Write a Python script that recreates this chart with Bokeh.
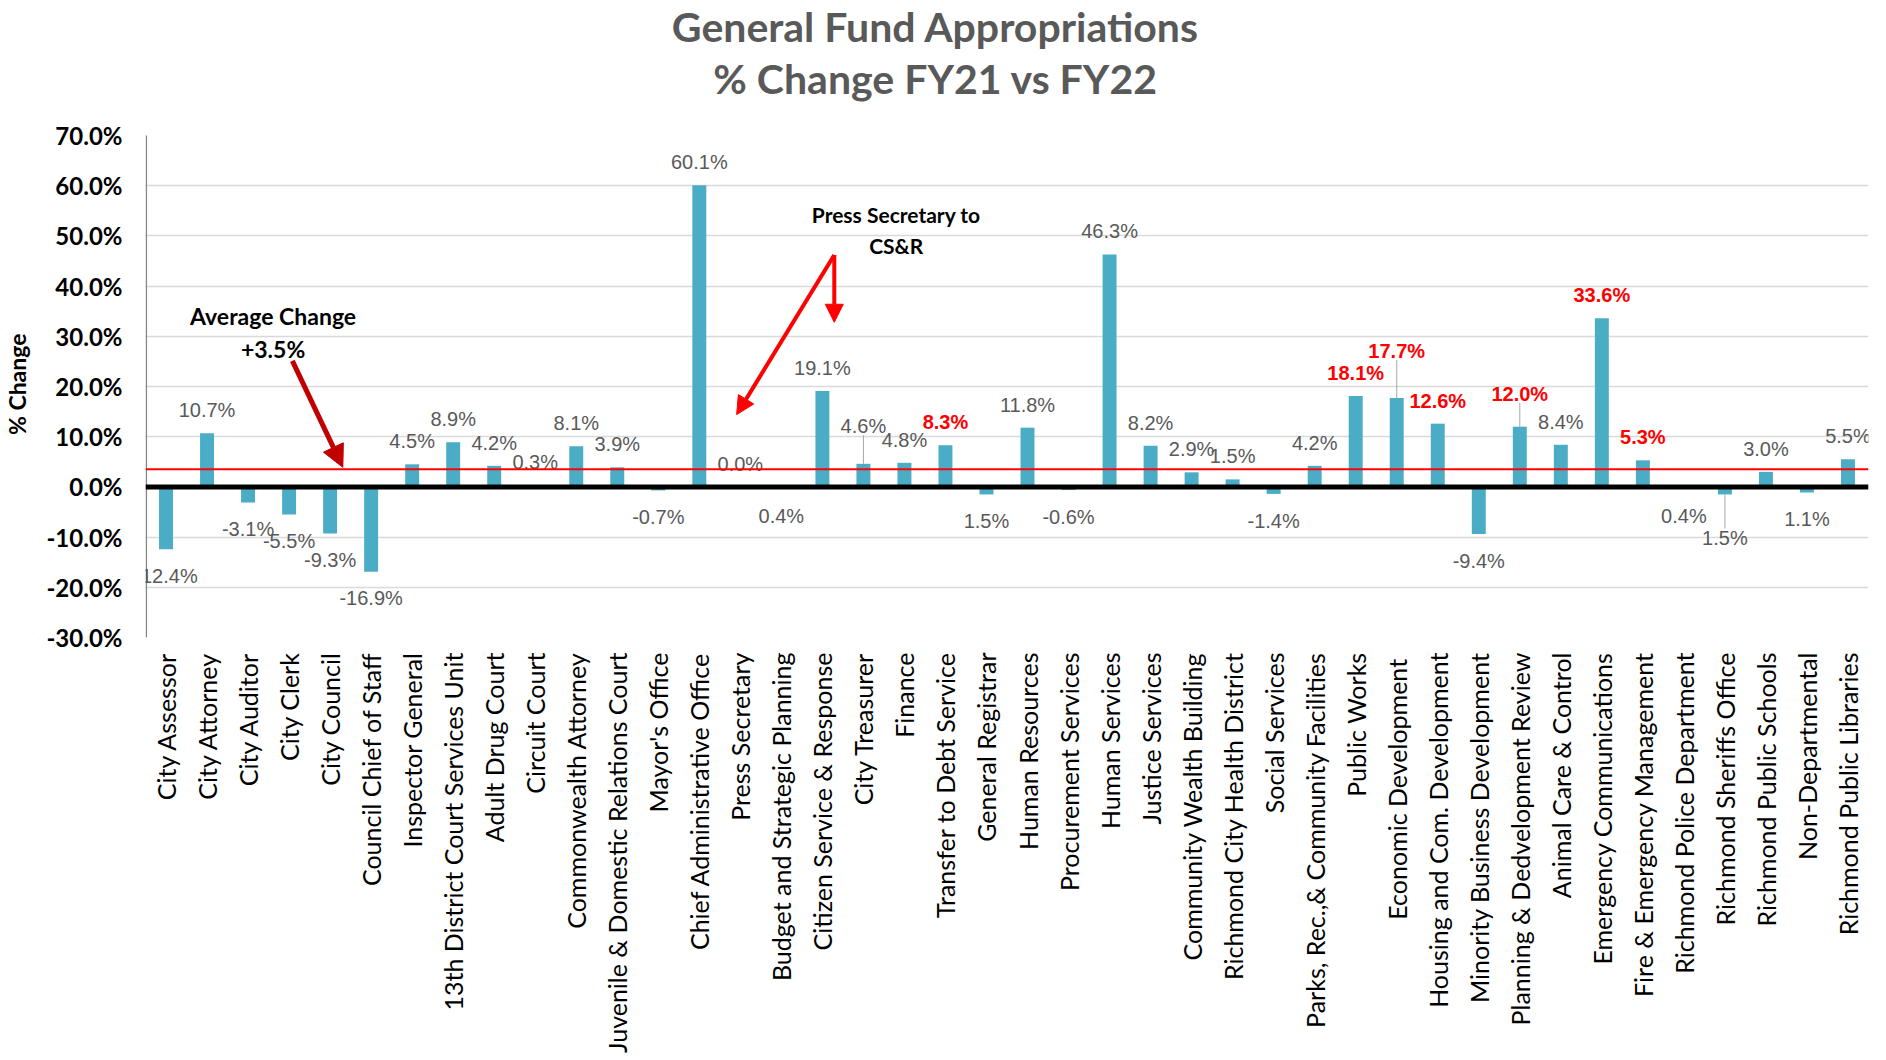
import math
from bokeh.plotting import figure
from bokeh.models import (FactorRange, Range1d, Span, Arrow, NormalHead, Label,
                          FixedTicker, PrintfTickFormatter, ColumnDataSource, LabelSet)
from bokeh.core.properties import value
from bokeh.embed import file_html
from bokeh.resources import INLINE

# ---------------- data ----------------
categories = [
    "City Assessor", "City Attorney", "City Auditor", "City Clerk", "City Council",
    "Council Chief of Staff", "Inspector General", "13th District Court Services Unit",
    "Adult Drug Court", "Circuit Court", "Commonwealth Attorney",
    "Juvenile & Domestic Relations Court", "Mayor's Office", "Chief Administrative Office",
    "Press Secretary", "Budget and Strategic Planning", "Citizen Service & Response",
    "City Treasurer", "Finance", "Transfer to Debt Service", "General Registrar",
    "Human Resources", "Procurement Services", "Human Services", "Justice Services",
    "Community Wealth Building", "Richmond City Health District", "Social Services",
    "Parks, Rec.,& Community Facilities", "Public Works", "Economic  Development",
    "Housing and Com. Development", "Minority Business Development",
    "Planning & Dedvelopment Review", "Animal Care & Control", "Emergency Communications",
    "Fire & Emergency Management", "Richmond Police Department", "Richmond Sheriffs Office",
    "Richmond Public Schools", "Non-Departmental", "Richmond Public Libraries",
]

pct_change = [
    -12.4, 10.7, -3.1, -5.5, -9.3, -16.9, 4.5, 8.9, 4.2, 0.3, 8.1, 3.9, -0.7, 60.1,
    0.0, -0.4, 19.1, 4.6, 4.8, 8.3, -1.5, 11.8, -0.6, 46.3, 8.2, 2.9, 1.5, -1.4,
    4.2, 18.1, 17.7, 12.6, -9.4, 12.0, 8.4, 33.6, 5.3, -0.4, -1.5, 3.0, -1.1, 5.5,
]

# data labels exactly as printed on the chart
data_labels = [
    "-12.4%", "10.7%", "-3.1%", "-5.5%", "-9.3%", "-16.9%", "4.5%", "8.9%", "4.2%",
    "0.3%", "8.1%", "3.9%", "-0.7%", "60.1%", "0.0%", "0.4%", "19.1%", "4.6%", "4.8%",
    "8.3%", "1.5%", "11.8%", "-0.6%", "46.3%", "8.2%", "2.9%", "1.5%", "-1.4%", "4.2%",
    "18.1%", "17.7%", "12.6%", "-9.4%", "12.0%", "8.4%", "33.6%", "5.3%", "0.4%",
    "1.5%", "3.0%", "1.1%", "5.5%",
]

# departments whose labels are highlighted in red
highlighted = [
    "Transfer to Debt Service", "Public Works", "Economic  Development",
    "Housing and Com. Development", "Planning & Dedvelopment Review",
    "Emergency Communications", "Fire & Emergency Management",
]

average_change = 3.5

title_lines = ["General Fund Appropriations", "% Change FY21 vs FY22"]
y_axis_title = "% Change"

Y_MIN, Y_MAX = -30, 70          # value axis extent
Y_TOP = 96.5                    # head-room above the axis for the title

# ---------------- styling / label placement ----------------
POS_OFF = 4.6      # label centre above bar end (data units)
NEG_OFF = -5.3     # label centre below bar end
# extra displacement of a few labels (data units), with leader lines
nudges = {
    "City Treasurer": 2.9,
    "Economic  Development": 4.8,
    "Planning & Dedvelopment Review": 1.9,
    "Richmond Sheriffs Office": -3.3,
}
LABEL_HALF = 1.8

BAR_COLOR = "#4BACC6"
GRAY_TXT = "#595959"

lab_y, norm_idx, red_idx = [], [], []
for i, (c, v) in enumerate(zip(categories, pct_change)):
    lbl = data_labels[i]
    below = lbl.startswith("-") or v < 0
    base = v + (NEG_OFF if below else POS_OFF)
    lab_y.append(base + nudges.get(c, 0.0))
    (red_idx if c in highlighted else norm_idx).append(i)

def sub(idx):
    return ColumnDataSource(dict(
        cat=[categories[i] for i in idx],
        y=[lab_y[i] for i in idx],
        text=[data_labels[i] for i in idx],
    ))

bars = ColumnDataSource(dict(cat=categories, val=pct_change))

lead_cat, lead_y0, lead_y1 = [], [], []
for c, dy in nudges.items():
    i = categories.index(c)
    v = pct_change[i]
    lead_cat.append(c)
    lead_y0.append(v)
    lead_y1.append(lab_y[i] + (LABEL_HALF if dy < 0 else -LABEL_HALF))
leaders = ColumnDataSource(dict(cat=lead_cat, y0=lead_y0, y1=lead_y1))

# ---------------- figure ----------------
p = figure(
    x_range=FactorRange(factors=categories, range_padding=0, factor_padding=0),
    y_range=Range1d(Y_MIN, Y_TOP),
    width=1872, height=1058,
    min_border_left=145, min_border_right=4, min_border_top=2, min_border_bottom=421,
    output_backend="svg", toolbar_location=None,
)
p.title = None
p.outline_line_color = None
p.background_fill_color = "white"
p.border_fill_color = "white"

# grid
p.xgrid.grid_line_color = None
p.ygrid.ticker = FixedTicker(ticks=[-20, -10, 10, 20, 30, 40, 50, 60])
p.ygrid.grid_line_color = "#d9d9d9"
p.ygrid.grid_line_width = 1.5

# y axis (line drawn separately so that it stops at the top tick)
p.yaxis.ticker = FixedTicker(ticks=list(range(Y_MIN, Y_MAX + 1, 10)))
p.yaxis.formatter = PrintfTickFormatter(format="%.1f%%")
# trailing no-break spaces move the centred title down to the middle of the value axis
p.yaxis.axis_label = y_axis_title + "\u00a0" * 23
p.yaxis.axis_label_text_font = "Lato"
p.yaxis.axis_label_text_font_size = "23px"
p.yaxis.axis_label_text_font_style = "bold"
p.yaxis.axis_label_text_color = "black"
p.yaxis.axis_label_standoff = 12
p.yaxis.major_label_text_font = "Lato"
p.yaxis.major_label_text_font_size = "24px"
p.yaxis.major_label_text_font_style = "bold"
p.yaxis.major_label_text_color = "black"
p.yaxis.major_label_standoff = 17
p.yaxis.major_tick_line_color = None
p.yaxis.minor_tick_line_color = None
p.yaxis.axis_line_color = None
p.segment(x0=0.02, y0=Y_MIN, x1=0.02, y1=Y_MAX, line_color="#868686", line_width=1.5)

# x axis
p.xaxis.major_label_orientation = math.pi / 2
p.xaxis.major_label_text_font = "Lato"
p.xaxis.major_label_text_font_size = "25px"
p.xaxis.major_label_text_color = "black"
p.xaxis.major_label_standoff = 9
p.xaxis.axis_line_color = None
p.xaxis.major_tick_line_color = None
p.xaxis.minor_tick_line_color = None

# bars
p.vbar(x="cat", top="val", bottom=0, width=0.34, source=bars,
       fill_color=BAR_COLOR, line_color=None)

# leader lines
p.segment(x0="cat", y0="y0", x1="cat", y1="y1", source=leaders,
          line_color="#a6a6a6", line_width=1)

# data labels
p.add_layout(LabelSet(x="cat", y="y", text="text", source=sub(norm_idx), text_align="center",
                      text_baseline="middle", text_color=GRAY_TXT,
                      text_font=value("Liberation Sans"), text_font_size=value("20px")))
p.add_layout(LabelSet(x="cat", y="y", text="text", source=sub(red_idx), text_align="center",
                      text_baseline="middle", text_color="#ff0000",
                      text_font=value("Liberation Sans"), text_font_size=value("20px"),
                      text_font_style="bold"))

# zero line and average line
p.add_layout(Span(location=0, dimension="width", line_color="black", line_width=5))
p.add_layout(Span(location=average_change, dimension="width", line_color="#ff0000",
                  line_width=2))

# chart title, two centred lines in the head-room
for txt, ty in zip(title_lines, [91.7, 81.3]):
    p.add_layout(Label(x=19.26, y=ty, text=txt,
                       text_font="Lato", text_font_size="41px", text_font_style="bold",
                       text_color=GRAY_TXT, text_align="center", text_baseline="middle"))

# annotations
ann_font = dict(text_font="Lato", text_font_style="bold", text_color="black",
                text_align="center", text_baseline="middle")
p.add_layout(Label(x=3.11, y=34.0, text="Average Change", text_font_size="23px", **ann_font))
p.add_layout(Label(x=3.11, y=27.5, text="+%.1f%%" % average_change, text_font_size="23px", **ann_font))
p.add_layout(Arrow(x_start=3.58, y_start=25.1, x_end=4.81, y_end=3.9,
                   line_color="#c00000", line_width=5,
                   end=NormalHead(size=22, fill_color="#c00000", line_color="#c00000")))

p.add_layout(Label(x=18.3, y=54.3, text="Press Secretary to", text_font_size="21px", **ann_font))
p.add_layout(Label(x=18.3, y=48.1, text="CS&R", text_font_size="21px", **ann_font))
p.add_layout(Arrow(x_start=16.79, y_start=46.2, x_end=14.41, y_end=14.4,
                   line_color="#ff0000", line_width=4,
                   end=NormalHead(size=18, fill_color="#ff0000", line_color="#ff0000")))
p.add_layout(Arrow(x_start=16.79, y_start=46.2, x_end=16.79, y_end=32.8,
                   line_color="#ff0000", line_width=4,
                   end=NormalHead(size=18, fill_color="#ff0000", line_color="#ff0000")))

open("out.html", "w").write(file_html(p, INLINE))
